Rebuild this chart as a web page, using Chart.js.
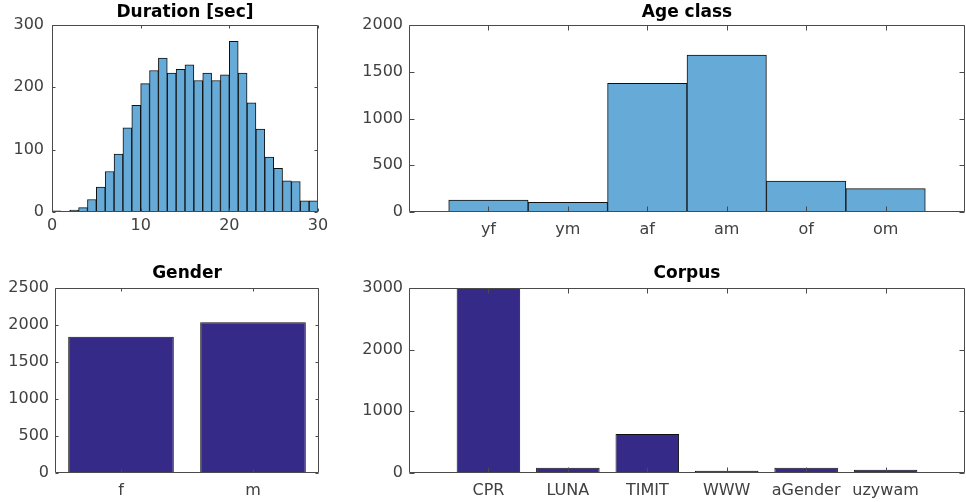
<!DOCTYPE html>
<html><head><meta charset="utf-8">
<script src="https://cdn.jsdelivr.net/npm/chart.js@4.4.1/dist/chart.umd.min.js"></script>
<style>
html,body{margin:0;padding:0;background:#fff;width:966px;height:502px;overflow:hidden;}
canvas{position:absolute;}
</style></head><body>
<canvas id="c1" width="340" height="250" style="left:0;top:0"></canvas>
<canvas id="c2" width="626" height="250" style="left:340px;top:0"></canvas>
<canvas id="c3" width="340" height="252" style="left:0;top:250px"></canvas>
<canvas id="c4" width="626" height="252" style="left:340px;top:250px"></canvas>
<script>
// ---- data ----
const durationBinEdges = [0,1,2,3,4,5,6,7,8,9,10,11,12,13,14,15,16,17,18,19,20,21,22,23,24,25,26,27,28,29,30];
const durationCounts = [2,0,3,7,20,40,65,93,135,171,206,227,247,223,229,236,211,223,211,220,274,223,175,133,88,70,50,49,18,18];
const durationTicks = [0,10,20,30];
const ageClasses = ['yf','ym','af','am','of','om'];
const ageCounts = [128,103,1376,1679,332,250];
const genders = ['f','m'];
const genderCounts = [1841,2038];
const corpora = ['CPR','LUNA','TIMIT','WWW','aGender','uzywam'];
const corpusCounts = [3000,86,634,37,86,53];

// ---- style ----
const FONT = "'DejaVu Sans'";
const TICK_COLOR = '#404040';
const AXIS_COLOR = '#4a4a4a';
const LIGHT = '#66aad7';
const DARK = '#352a87';

const boxPlugin = {
  id: 'matBox',
  afterDatasetsDraw(chart, args, opts) {
    const {ctx, chartArea: a, scales} = chart;
    const tl = opts.tickLen || 3;
    ctx.save();
    ctx.strokeStyle = AXIS_COLOR;
    ctx.lineWidth = 1;
    const L = Math.round(a.left) + 0.5, R = Math.round(a.right) - 0.5;
    const T = Math.round(a.top) + 0.5, B = Math.round(a.bottom) - 0.5;
    ctx.beginPath();
    ctx.rect(L, T, R - L, B - T);
    scales.x.ticks.forEach(t => {
      const px = Math.round(scales.x.getPixelForValue(t.value)) + 0.5;
      ctx.moveTo(px, B); ctx.lineTo(px, B - tl);
      ctx.moveTo(px, T); ctx.lineTo(px, T + tl);
    });
    scales.y.ticks.forEach(t => {
      const py = Math.round(scales.y.getPixelForValue(t.value)) + 0.5;
      ctx.moveTo(L, py); ctx.lineTo(L + tl, py);
      ctx.moveTo(R, py); ctx.lineTo(R - tl, py);
    });
    ctx.stroke();
    ctx.restore();
  }
};

function makeChart(id, cfg) {
  const yScale = {
    min: 0, max: cfg.yMax,
    grid: {display: false, drawTicks: false},
    border: {display: false},
    ticks: {stepSize: cfg.yStep, padding: cfg.yPad, color: TICK_COLOR,
      font: {family: FONT, size: 16}, callback: v => String(v)},
    afterFit: s => { s.width = cfg.yWidth; }
  };
  const xScale = {
    type: 'linear', offset: false,
    min: cfg.xMin, max: cfg.xMax,
    grid: {display: false, drawTicks: false},
    border: {display: false},
    ticks: {
      padding: cfg.xPad, color: TICK_COLOR, font: {family: FONT, size: 16},
      autoSkip: false, maxRotation: 0,
      callback: cfg.xLabel
    },
    afterBuildTicks: s => { s.ticks = cfg.xTicks.map(v => ({value: v})); },
    afterFit: s => { s.height = cfg.xHeight; }
  };
  return new Chart(document.getElementById(id), {
    type: 'bar',
    data: {
      datasets: [{
        data: cfg.points,
        backgroundColor: cfg.color,
        borderColor: '#111',
        borderWidth: 1,
        borderSkipped: false,
        barPercentage: cfg.barPct,
        categoryPercentage: 1
      }]
    },
    options: {
      responsive: false,
      animation: false,
      layout: {padding: {left: 0, right: cfg.padRight, top: 0, bottom: 0}},
      scales: {x: xScale, y: yScale},
      plugins: {
        legend: {display: false},
        tooltip: {enabled: false},
        title: {
          display: true, text: cfg.title, color: '#000', fullSize: false,
          font: {family: FONT, size: 17, weight: 'bold'},
          padding: {top: cfg.titleTop, bottom: cfg.titleBottom}
        },
        matBox: {tickLen: cfg.tickLen}
      }
    },
    plugins: [boxPlugin]
  });
}

// Duration histogram
makeChart('c1', {
  title: 'Duration [sec]',
  points: durationCounts.map((v, i) => ({x: (durationBinEdges[i] + durationBinEdges[i + 1]) / 2, y: v})),
  color: LIGHT, barPct: 1,
  xMin: durationBinEdges[0], xMax: durationBinEdges[durationBinEdges.length - 1],
  xTicks: durationTicks, xLabel: v => String(v),
  yMax: 300, yStep: 100,
  yWidth: 52, padRight: 22, xHeight: 38, xPad: 4, yPad: 8,
  titleTop: 2, titleBottom: 2.6, tickLen: 3
});

// Age class
makeChart('c2', {
  title: 'Age class',
  points: ageCounts.map((v, i) => ({x: i + 1, y: v})),
  color: LIGHT, barPct: 1,
  xMin: 0, xMax: ageClasses.length + 1,
  xTicks: ageClasses.map((_, i) => i + 1), xLabel: v => ageClasses[v - 1],
  yMax: 2000, yStep: 500,
  yWidth: 69, padRight: 1, xHeight: 38, xPad: 8, yPad: 6,
  titleTop: 2, titleBottom: 2.6, tickLen: 5
});

// Gender
makeChart('c3', {
  title: 'Gender',
  points: genderCounts.map((v, i) => ({x: i + 1, y: v})),
  color: DARK, barPct: 0.8,
  xMin: 0.5, xMax: genders.length + 0.5,
  xTicks: genders.map((_, i) => i + 1), xLabel: v => genders[v - 1],
  yMax: 2500, yStep: 500,
  yWidth: 55, padRight: 21, xHeight: 29, xPad: 8, yPad: 6,
  titleTop: 13.3, titleBottom: 4.3, tickLen: 3
});

// Corpus
makeChart('c4', {
  title: 'Corpus',
  points: corpusCounts.map((v, i) => ({x: i + 1, y: v})),
  color: DARK, barPct: 0.8,
  xMin: 0, xMax: corpora.length + 1,
  xTicks: corpora.map((_, i) => i + 1), xLabel: v => corpora[v - 1],
  yMax: 3000, yStep: 1000,
  yWidth: 69, padRight: 1, xHeight: 29, xPad: 8, yPad: 6,
  titleTop: 13.3, titleBottom: 4.3, tickLen: 5
});
</script>
</body></html>
